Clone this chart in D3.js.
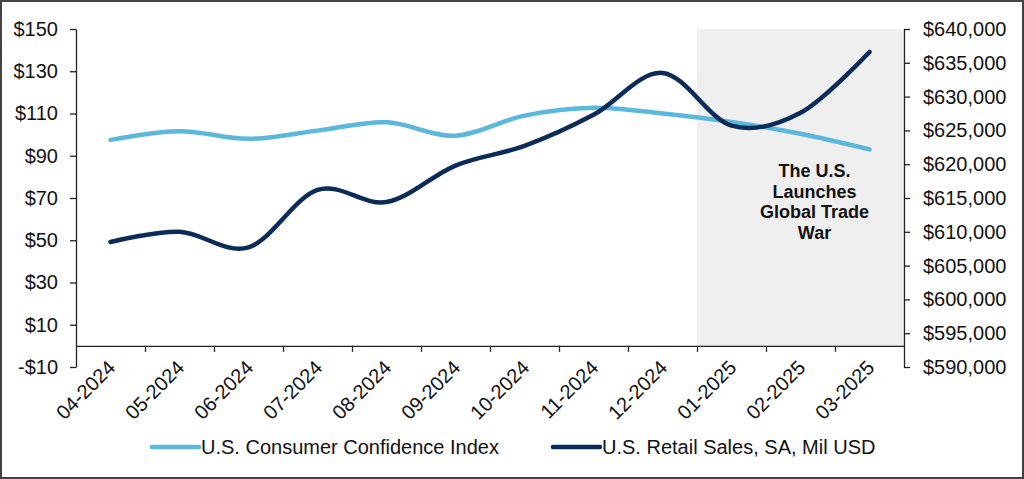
<!DOCTYPE html>
<html>
<head>
<meta charset="utf-8">
<script src="https://cdn.jsdelivr.net/npm/d3@7"></script>
<style>
  html, body { margin: 0; padding: 0; background: #fff; }
  svg { display: block; font-family: "Liberation Sans", Arial, sans-serif; }
</style>
</head>
<body>
<div id="chart"></div>
<script>
// data
const months = ["04-2024", "05-2024", "06-2024", "07-2024", "08-2024", "09-2024",
                "10-2024", "11-2024", "12-2024", "01-2025", "02-2025", "03-2025"];
const confidence = [97.5, 101.6, 98.0, 101.9, 105.8, 99.5, 109.0, 112.7, 110.0, 106.0, 100.4, 93.0];
const retailSales = [608500, 610000, 607700, 616200, 614400, 619800, 622700, 627300, 633500, 625700, 627600, 636600];
const leftTicks = [-10, 10, 30, 50, 70, 90, 110, 130, 150];
const rightTicks = [590000, 595000, 600000, 605000, 610000, 615000, 620000, 625000, 630000, 635000, 640000];
const shadeFrom = "01-2025";
const noteLines = ["The U.S.", "Launches", "Global Trade", "War"];
const seriesNames = ["U.S. Consumer Confidence Index", "U.S. Retail Sales, SA, Mil USD"];

const width = 1024, height = 479;
const margin = {top: 29, right: 120, bottom: 112, left: 76};
const chartWidth = width - margin.left - margin.right;
const chartHeight = height - margin.top - margin.bottom;

const lightBlue = "#5cb7dc";
const navy = "#0b2b59";
const fontSize = "20px";

const svg = d3.select("#chart").append("svg")
  .attr("width", width)
  .attr("height", height);

// outer frame
svg.append("rect")
  .attr("x", 1).attr("y", 1)
  .attr("width", width - 2).attr("height", height - 2)
  .attr("fill", "#fff")
  .attr("stroke", "#444").attr("stroke-width", 2);

const g = svg.append("g")
  .attr("transform", `translate(${margin.left}, ${margin.top})`);

// scales
const xScale = d3.scaleBand().domain(months).range([0, chartWidth]);
const xMid = d => xScale(d) + xScale.bandwidth() / 2;

const yLeft = d3.scaleLinear().domain([-10, 150]).range([chartHeight, 0]);
const yRight = d3.scaleLinear().domain([590000, 640000]).range([chartHeight, 0]);

// shaded period
g.append("rect")
  .attr("x", xScale(shadeFrom))
  .attr("y", 0)
  .attr("width", chartWidth - xScale(shadeFrom))
  .attr("height", yLeft(0))
  .attr("fill", "#efefef");

// annotation
const note = g.append("text")
  .attr("text-anchor", "middle")
  .attr("font-weight", "bold")
  .attr("font-size", "18px")
  .attr("fill", "#111");
noteLines.forEach((t, i) => {
  note.append("tspan")
    .attr("x", (xScale(shadeFrom) + chartWidth) / 2 + 14)
    .attr("y", 148 + i * 20.5)
    .text(t);
});

// lines
const lineLeft = d3.line()
  .x((d, i) => xMid(months[i]))
  .y(d => yLeft(d))
  .curve(d3.curveCardinal.tension(0));

const lineRight = d3.line()
  .x((d, i) => xMid(months[i]))
  .y(d => yRight(d))
  .curve(d3.curveCardinal.tension(0));

g.append("path")
  .datum(confidence)
  .attr("fill", "none")
  .attr("stroke", lightBlue)
  .attr("stroke-width", 4.5)
  .attr("stroke-linecap", "round")
  .attr("d", lineLeft);

g.append("path")
  .datum(retailSales)
  .attr("fill", "none")
  .attr("stroke", navy)
  .attr("stroke-width", 4.5)
  .attr("stroke-linecap", "round")
  .attr("d", lineRight);

// left axis
const yAxisLeft = d3.axisLeft(yLeft)
  .tickValues(leftTicks)
  .tickSize(6)
  .tickSizeOuter(0)
  .tickPadding(12)
  .tickFormat(d => (d < 0 ? "-$" : "$") + Math.abs(d));

const leftG = g.append("g").call(yAxisLeft);

// right axis
const yAxisRight = d3.axisRight(yRight)
  .tickValues(rightTicks)
  .tickSize(6)
  .tickSizeOuter(0)
  .tickPadding(13)
  .tickFormat(d => "$" + d3.format(",")(d));

const rightG = g.append("g")
  .attr("transform", `translate(${chartWidth}, 0)`)
  .call(yAxisRight);

[leftG, rightG].forEach(a => {
  a.selectAll("text").attr("font-size", fontSize).attr("fill", "#111").attr("font-family", "Liberation Sans, Arial, sans-serif");
  a.selectAll("line, path").attr("stroke", "#222").attr("stroke-width", 1.3);
});

// x axis at zero, ticks between categories
const boundary = d3.scaleLinear().domain([0, months.length]).range([0, chartWidth]);
const xAxisTicks = d3.axisBottom(boundary)
  .tickValues(d3.range(1, months.length))
  .tickSize(6)
  .tickSizeOuter(0)
  .tickFormat("");

const xG = g.append("g")
  .attr("transform", `translate(0, ${yLeft(0)})`)
  .call(xAxisTicks);
xG.selectAll("line, path").attr("stroke", "#222").attr("stroke-width", 1.3);

// x labels, rotated
const xLabels = d3.axisBottom(xScale).tickSize(0).tickPadding(0);
const xl = g.append("g")
  .attr("transform", `translate(0, ${yLeft(0)})`)
  .call(xLabels);
xl.select(".domain").remove();
xl.selectAll("text")
  .attr("font-size", fontSize)
  .attr("fill", "#111")
  .attr("font-family", "Liberation Sans, Arial, sans-serif")
  .attr("text-anchor", "end")
  .attr("dy", null)
  .attr("y", 0)
  .attr("transform", "translate(6, 23) rotate(-45)");

// legend
const legend = svg.append("g")
  .attr("transform", `translate(0, 447)`);
const legendItems = [
  {name: seriesNames[0], color: lightBlue, x: 152},
  {name: seriesNames[1], color: navy, x: 553}
];
legendItems.forEach(item => {
  legend.append("line")
    .attr("x1", item.x).attr("x2", item.x + 47)
    .attr("y1", 0).attr("y2", 0)
    .attr("stroke", item.color)
    .attr("stroke-width", 4.5)
    .attr("stroke-linecap", "round");
  legend.append("text")
    .attr("x", item.x + 49)
    .attr("y", 7)
    .attr("font-size", fontSize)
    .attr("fill", "#111")
    .text(item.name);
});
</script>
</body>
</html>
